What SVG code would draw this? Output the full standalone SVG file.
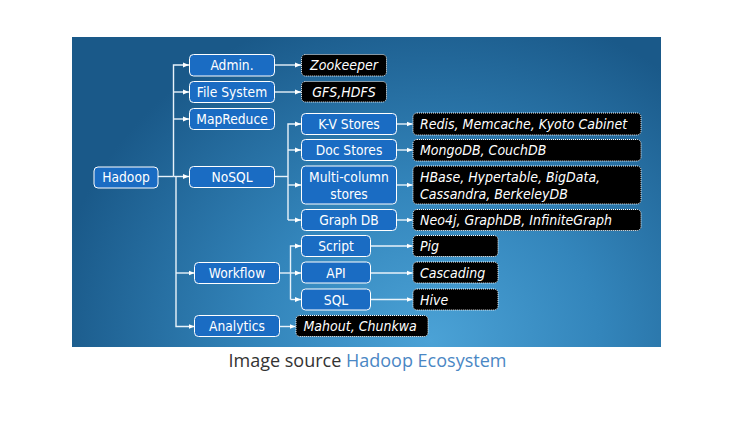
<svg xmlns="http://www.w3.org/2000/svg" width="741" height="434" viewBox="0 0 741 434">
<style>
.b rect{fill:#1a6cc3;stroke:#ffffff;stroke-width:1}
.k rect{fill:#000000;stroke:#ffffff;stroke-width:1;stroke-dasharray:1 1}
.b text{font-family:"DejaVu Sans Condensed","DejaVu Sans",sans-serif;font-stretch:condensed;font-size:13.7px;fill:#ffffff;text-anchor:middle}
.k text{font-family:"DejaVu Sans Condensed","DejaVu Sans",sans-serif;font-stretch:condensed;font-size:14px;font-style:italic;fill:#ffffff}
.k text.c{text-anchor:middle}
#connectors path{fill:none;stroke:#e8f2fa;stroke-width:1.4}
#connectors path.a{marker-end:url(#ah)}
.cap{font-family:"Open Sans",sans-serif;font-size:18px}
</style>
<defs>
<radialGradient id="bg" gradientUnits="userSpaceOnUse" cx="430" cy="340" r="380" gradientTransform="translate(430 340) scale(1 0.9) translate(-430 -340)">
<stop offset="0" stop-color="#4ba2d6"/>
<stop offset="0.45" stop-color="#3385bb"/>
<stop offset="1" stop-color="#1a5989"/>
</radialGradient>
<marker id="ah" viewBox="0 0 6 6" refX="6" refY="3" markerWidth="6" markerHeight="6" markerUnits="userSpaceOnUse" orient="auto">
<path d="M0 0.5L6 3L0 5.5Z" fill="#ffffff"/>
</marker>
</defs>
<rect x="72" y="37" width="589" height="310" fill="url(#bg)"/>
<g id="connectors">
<path d="M158 176.5H173.5"/>
<path class="a" d="M173.5 176.5H189"/>
<path class="a" d="M173.5 176.5V65H189"/>
<path class="a" d="M173.5 92H189"/>
<path class="a" d="M173.5 119H189"/>
<path class="a" d="M176 176.5V326.5H194.5"/>
<path class="a" d="M176 273H194.5"/>
<path class="a" d="M275 65H301"/>
<path class="a" d="M275 92H301"/>
<path d="M274.5 176.5H288"/>
<path class="a" d="M288 220V124H301"/>
<path class="a" d="M288 150H301"/>
<path class="a" d="M288 185H301"/>
<path class="a" d="M288 220H301"/>
<path class="a" d="M397 124H412.5"/>
<path class="a" d="M397 150H412.5"/>
<path class="a" d="M397 185H412.5"/>
<path class="a" d="M397 220H412.5"/>
<path d="M279.5 273H290.5"/>
<path class="a" d="M290.5 299.5V246H301"/>
<path class="a" d="M290.5 273H301"/>
<path class="a" d="M290.5 299.5H301"/>
<path class="a" d="M370.5 246H412.5"/>
<path class="a" d="M370.5 273H412.5"/>
<path class="a" d="M370.5 299.5H412.5"/>
<path class="a" d="M279.5 326.5H295.5"/>
</g>
<g id="hadoop" class="b"><rect x="94" y="167" width="64" height="21" rx="4"/><text x="126" y="182">Hadoop</text></g>
<g id="admin" class="b"><rect x="189.5" y="54.5" width="85" height="21.5" rx="4"/><text x="232" y="70">Admin.</text></g>
<g id="filesystem" class="b"><rect x="189.5" y="81.5" width="85" height="21" rx="4"/><text x="232" y="97">File System</text></g>
<g id="mapreduce" class="b"><rect x="189.5" y="108.5" width="85" height="21" rx="4"/><text x="232" y="124">MapReduce</text></g>
<g id="nosql" class="b"><rect x="189.5" y="166.5" width="85" height="21" rx="4"/><text x="232" y="182">NoSQL</text></g>
<g id="workflow" class="b"><rect x="194.5" y="262.5" width="85" height="21" rx="4"/><text x="237" y="278">Workflow</text></g>
<g id="analytics" class="b"><rect x="194.5" y="315.5" width="85" height="21" rx="4"/><text x="237" y="331">Analytics</text></g>
<g id="kvstores" class="b"><rect x="301.5" y="113.5" width="95" height="21" rx="4"/><text x="349" y="129">K-V Stores</text></g>
<g id="docstores" class="b"><rect x="301.5" y="139.5" width="95" height="21" rx="4"/><text x="349" y="155">Doc Stores</text></g>
<g id="multicolumn" class="b"><rect x="301.5" y="166" width="95" height="38" rx="4"/><text x="349" y="182">Multi-column</text><text x="349" y="199">stores</text></g>
<g id="graphdb" class="b"><rect x="301.5" y="209.5" width="95" height="21" rx="4"/><text x="349" y="225">Graph DB</text></g>
<g id="script" class="b"><rect x="301.5" y="235.5" width="69" height="21" rx="4"/><text x="336" y="251">Script</text></g>
<g id="api" class="b"><rect x="301.5" y="262" width="69" height="21" rx="4"/><text x="336" y="277.5">API</text></g>
<g id="sql" class="b"><rect x="301.5" y="289" width="69" height="21" rx="4"/><text x="336" y="304.5">SQL</text></g>
<g id="zookeeper" class="k"><rect x="301.5" y="54.5" width="85" height="21.5" rx="4"/><text class="c" x="344" y="70">Zookeeper</text></g>
<g id="gfshdfs" class="k"><rect x="301.5" y="81.5" width="85" height="20.5" rx="4"/><text class="c" x="344" y="96.5">GFS,HDFS</text></g>
<g id="redis" class="k"><rect x="413" y="113" width="228" height="22" rx="4"/><text x="420" y="129">Redis, Memcache, Kyoto Cabinet</text></g>
<g id="mongodb" class="k"><rect x="413" y="139.5" width="228" height="21.5" rx="4"/><text x="420" y="155">MongoDB, CouchDB</text></g>
<g id="hbase" class="k"><rect x="413" y="166" width="228" height="38" rx="4"/><text x="420" y="182">HBase, Hypertable, BigData,</text><text x="420" y="198.5">Cassandra, BerkeleyDB</text></g>
<g id="neo4j" class="k"><rect x="413" y="209.5" width="228" height="21" rx="4"/><text x="420" y="225">Neo4j, GraphDB, InfiniteGraph</text></g>
<g id="pig" class="k"><rect x="413" y="235.5" width="85" height="21" rx="4"/><text x="420" y="251">Pig</text></g>
<g id="cascading" class="k"><rect x="413" y="262" width="85" height="21" rx="4"/><text x="420" y="277.5">Cascading</text></g>
<g id="hive" class="k"><rect x="413" y="289" width="85" height="21" rx="4"/><text x="420" y="304.5">Hive</text></g>
<g id="mahout" class="k"><rect x="296" y="315.5" width="132" height="21" rx="4"/><text x="303.5" y="331">Mahout, Chunkwa</text></g>
<text class="cap" x="228.5" y="367" fill="#333333">Image source <tspan fill="#4a87c4">Hadoop Ecosystem</tspan></text>
</svg>
